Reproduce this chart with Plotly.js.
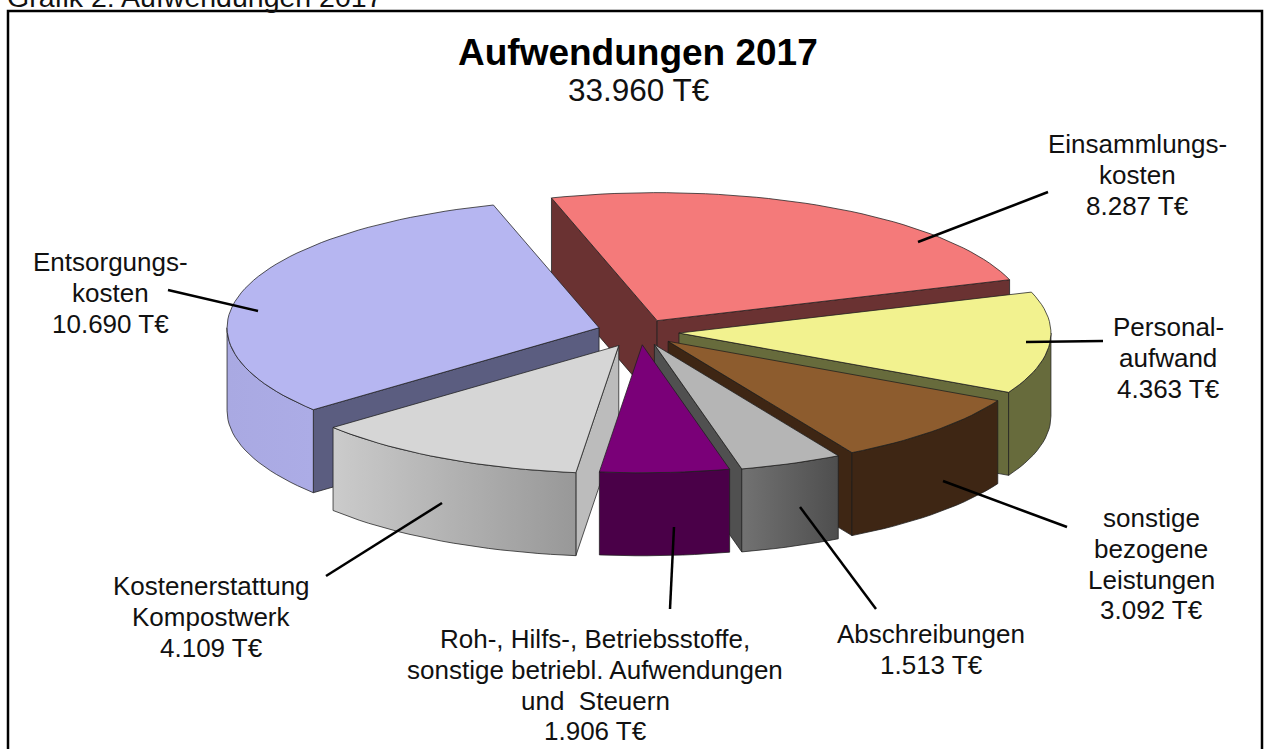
<!DOCTYPE html>
<html><head><meta charset="utf-8">
<script src="https://cdn.plot.ly/plotly-3.0.1.min.js"></script>
<style>html,body{margin:0;padding:0;background:#fff;overflow:hidden}#chart{width:1266px;height:749px}</style>
</head><body><div id="chart"></div>
<script>
// Data
const categories = ["Einsammlungskosten","Personalaufwand","sonstige bezogene Leistungen","Abschreibungen","Roh-, Hilfs-, Betriebsstoffe","Kostenerstattung Kompostwerk","Entsorgungskosten"];
const values = [8287,4363,3092,1513,1906,4109,10690];
const topColors = ["#f47a7a","#f2f28f","#8d5c2e","#b5b5b5","#7a0078","#d6d6d6","#b6b6f1"];
const sideColors = ["#6a3232","#676b3c","#3e2614","#505050","#4a0048","#bcbcbc","#5b5d80"];
const outerLeft = ["#6a3232","#676b3c","#3e2614","#727272","#4a0048","#cbcbcb","#a9a9e2"];
const outerRight = ["#6a3232","#676b3c","#3e2614","#4e4e4e","#4a0048","#989898","#acace6"];
const pullFactor = [0.1,0.105,0.105,0.105,0.1,0.12,0.115];
const drawOrder = [0,1,6,2,5,3,4];
const labels = [
 {lines:["Einsammlungs-","kosten","8.287 T€"],x:1137,y:144},
 {lines:["Personal-","aufwand","4.363 T€"],x:1168,y:327},
 {lines:["sonstige","bezogene","Leistungen","3.092 T€"],x:1151,y:518},
 {lines:["Abschreibungen","1.513 T€"],x:931,y:634},
 {lines:["Roh-, Hilfs-, Betriebsstoffe,","sonstige betriebl. Aufwendungen","und  Steuern","1.906 T€"],x:595,y:639},
 {lines:["Kostenerstattung","Kompostwerk","4.109 T€"],x:211,y:586},
 {lines:["Entsorgungs-","kosten","10.690 T€"],x:110,y:262}
];
const lineStep = 30.8;
const leaders = [[918,242,1048,192],[1026,342,1103,341],[943,481,1067,527],[800,507,876,609],[674,527,670,609],[442,503,326,576],[168,290,258,311]];

// Projection of the tilted pie
const cx=640, cy=332, rx=372, ry=128, depth=83, startDeg=-106.5;
const total=values.reduce((a,b)=>a+b,0);
const rad=d=>d*Math.PI/180;
const px=(c,t)=>[c[0]+rx*Math.cos(rad(t)),c[1]+ry*Math.sin(rad(t))];
const edge="rgba(30,30,30,0.75)";
function poly(pts,color,grad){
  const xs=pts.map(p=>p[0]).concat(pts[0][0]), ys=pts.map(p=>p[1]).concat(pts[0][1]);
  const tr={type:"scatter",mode:"lines",x:xs,y:ys,fill:"toself",fillcolor:color,
    line:{color:edge,width:1},hoverinfo:"skip",showlegend:false};
  if(grad) tr.fillgradient={type:"horizontal",colorscale:[[0,grad[0]],[1,grad[1]]]};
  return tr;
}
const arc=(c,a,b)=>{const n=Math.max(2,Math.ceil(Math.abs(b-a)/2)),o=[];for(let i=0;i<=n;i++)o.push(px(c,a+(b-a)*i/n));return o;};
const down=p=>[p[0],p[1]+depth];
let a=startDeg;
const slices=values.map((v,i)=>{const s=a,e=a+v/total*360;a=e;const m=(s+e)/2,f=pullFactor[i];
  return {i,s,e,c:[cx+f*rx*Math.cos(rad(m)),cy+f*ry*Math.sin(rad(m))]};});
const traces=[];
drawOrder.forEach(k=>{
  const {i,s,e,c}=slices[k];
  // radial walls visible when facing the viewer
  if(Math.cos(rad(s))<0){const q=px(c,s);traces.push(poly([c,q,down(q),down(c)],sideColors[i]));}
  if(Math.cos(rad(e))>0){const q=px(c,e);traces.push(poly([c,q,down(q),down(c)],sideColors[i]));}
  // outer rim: only the part with sin(t)>0 is visible
  const lo=Math.max(s,0), hi=Math.min(e,180);
  if(hi>lo){
    const ar=arc(c,lo,hi);
    const pts=ar.concat(ar.slice().reverse().map(down));
    traces.push(poly(pts,outerRight[i],[outerLeft[i],outerRight[i]]));
  }
  // top surface
  traces.push(poly([c].concat(arc(c,s,e)),topColors[i]));
});

const font="'Liberation Sans', Arial, sans-serif";
const annotations=[];
labels.forEach(l=>l.lines.forEach((t,j)=>annotations.push({text:t,x:l.x,y:l.y+j*lineStep,xref:"x",yref:"y",showarrow:false,xanchor:"center",yanchor:"middle",align:"center",font:{family:font,size:26,color:"#111"}})));
annotations.push({text:"<b>Aufwendungen 2017</b>",x:638,y:52,xref:"x",yref:"y",showarrow:false,xanchor:"center",yanchor:"middle",font:{family:font,size:37,color:"#000"}});
annotations.push({text:"33.960 T€",x:639,y:90,xref:"x",yref:"y",showarrow:false,xanchor:"center",yanchor:"middle",font:{family:font,size:31.5,color:"#111"}});
annotations.push({text:"Grafik 2: Aufwendungen 2017",x:5,y:15,xref:"x",yref:"y",showarrow:false,xanchor:"left",yanchor:"bottom",font:{family:font,size:28.5,color:"#111"}});

const shapes=leaders.map(p=>({type:"line",xref:"x",yref:"y",x0:p[0],y0:p[1],x1:p[2],y1:p[3],line:{color:"#000",width:2.5}}));
shapes.push({type:"rect",xref:"x",yref:"y",x0:8,y0:11,x1:1262,y1:770,line:{color:"#000",width:2.5},fillcolor:"rgba(0,0,0,0)"});

Plotly.newPlot("chart",traces,{
  width:1266,height:749,margin:{l:0,r:0,t:0,b:0},paper_bgcolor:"#fff",plot_bgcolor:"#fff",showlegend:false,
  xaxis:{range:[0,1266],visible:false,fixedrange:true},
  yaxis:{range:[749,0],visible:false,fixedrange:true},
  annotations,shapes
},{displayModeBar:false,staticPlot:true});
</script></body></html>
